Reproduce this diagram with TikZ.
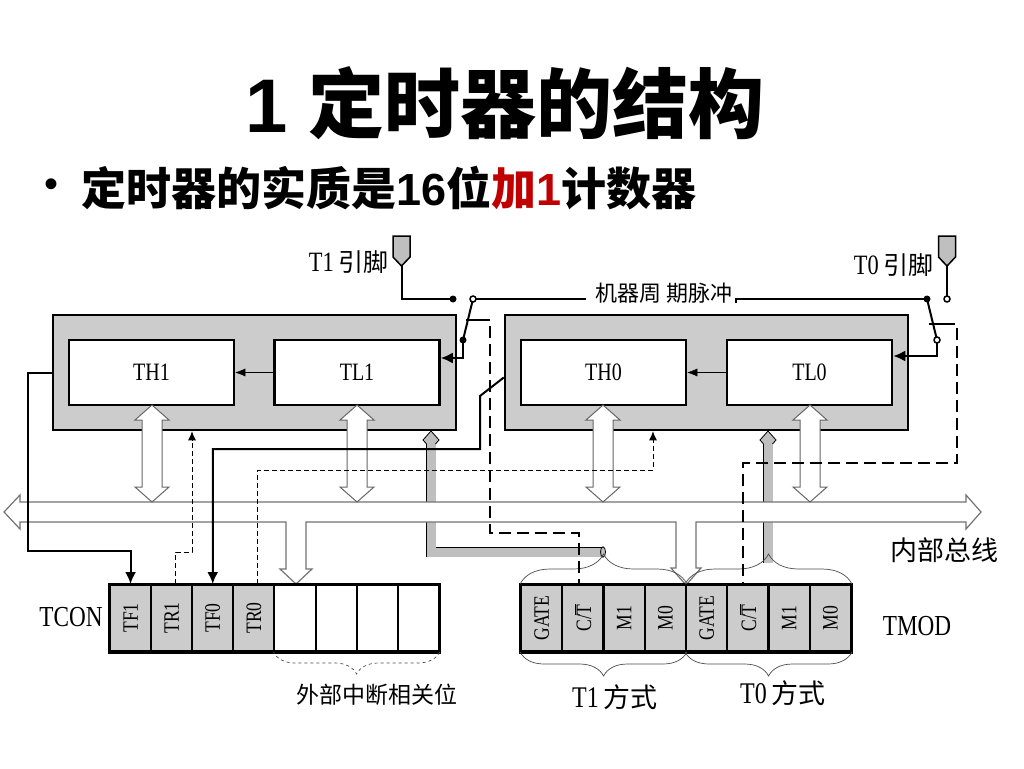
\documentclass[tikz,border=0pt]{standalone}
\usepackage{fontspec}
\setmainfont{Liberation Serif}[FakeStretch=0.8]
\newfontfamily\cjk{Noto Sans CJK SC}
\newfontfamily\arial{Liberation Sans}
\usetikzlibrary{arrows.meta,decorations.pathreplacing}
\newcommand\setsz[1]{\fontsize{#1}{#1}\selectfont}
\newcommand\ctbar{C/$\overline{\mbox{T}}$}
\definecolor{darkred}{RGB}{192,0,0}
\tikzset{
  graybox/.style={draw, line width=2.5pt, fill=black!20, minimum width=403, minimum height=115, inner sep=0},
  regbox/.style={draw, line width=2.5pt, fill=white, minimum width=165, minimum height=65, inner sep=0, font={\setsz{25}}},
  bitcell/.style={draw, line width=2pt, fill=black!20, minimum width=41.1, minimum height=66, inner sep=0, font={\setsz{22}}},
  wire/.style={line width=2pt},
  flagtip/.style={-{Latex[length=12pt,width=11pt]}},
  smalltip/.style={-{Latex[length=9pt,width=8pt]}},
  thindash/.style={line width=1pt, dash pattern=on 5pt off 3pt},
  thickdash/.style={line width=2pt, dash pattern=on 12pt off 6pt},
  pipe/.style={draw=black, line width=0.8pt, double=black!25, double distance=9pt},
  busline/.style={fill=white, draw=black!55, line width=1.2pt},
  dblarrow/.style={fill=white, draw=black!60, line width=1pt},
  mbrace/.style={decorate, decoration={brace, amplitude=#1}, draw=black!70, line width=0.7pt}
}

\begin{document}
\begin{tikzpicture}[x=1pt, y=-1pt, line join=miter]
\fill[white] (0,0) rectangle (1024,768);
\useasboundingbox (0,0) rectangle (1024,768);

% title
\node (title) at (505,103) {\setsz{76}\arial\bfseries 1\ \cjk 定时器的结构};
\node (dot) at (52,188) {\setsz{40}\arial •};
\node[anchor=west] (sub) at (78,188) {\setsz{45}\cjk\bfseries 定时器的实质是{\arial 16}位\textcolor{darkred}{加{\arial 1}}计数器};

% timer blocks
\node[graybox] (t1box) at (254.5,372.5) {};
\node[graybox] (t0box) at (706.5,372.5) {};
\node[regbox] (th1) at (151.5,372.5) {TH1};
\node[regbox] (tl1) at (357,372.5) {TL1};
\node[regbox] (th0) at (603.5,372.5) {TH0};
\node[regbox] (tl0) at (809.5,372.5) {TL0};
\draw[-{Latex[length=10pt,width=8pt]}] (tl1) -- (th1);
\draw[-{Latex[length=10pt,width=8pt]}] (tl0) -- (th0);

% pins
\filldraw[fill=black!25, line width=1.5pt] (393,236) -- (410,236) -- (410,257) -- (401.5,266) -- (393,257) -- cycle;
\filldraw[fill=black!25, line width=1.5pt] (938.5,236) -- (955.5,236) -- (955.5,257) -- (947,266) -- (938.5,257) -- cycle;
\coordinate (p1) at (401.5,266);
\coordinate (p0) at (947,266);
\node[anchor=east] (t1pin) at (392,262) {\setsz{28}T1\,{\cjk\setsz{25}引脚}};
\node[anchor=east] (t0pin) at (937,265) {\setsz{28}T0\,{\cjk\setsz{25}引脚}};

% clock and switches
\coordinate (s1a) at (453,299);
\coordinate (s1b) at (473,299);
\coordinate (s1c) at (463,340);
\coordinate (s0a) at (927,299);
\coordinate (s0b) at (947,299);
\coordinate (s0c) at (937,340);
\node (clk) at (664,293) {\setsz{22}\cjk 机器周 期脉冲};
\draw[wire] (p1) |- (s1a);
\draw[wire] (p0) -- (s0b);
\draw[wire] (s1b) -- ([xshift=-6pt]clk.west |- s1b);
\draw[wire] (clk.east |- s0a) ++(0,4) -- ++(0,-4) -- (s0a);
\draw[wire] (s1b) -- (s1c);
\draw[wire] (466,320) -- (478,320);
\draw[wire] (s0a) -- (s0c);
\draw[wire] (929,324) -- (943,324);
\draw[wire, flagtip] (s1c) -- (463,358) -- (tl1.east |- 0,358);
\draw[wire, flagtip] (s0c) -- (937,356) -- (tl0.east |- 0,356);
\fill (s1a) circle (3.5pt);
\fill (s1c) circle (3.5pt);
\fill (s0a) circle (3.5pt);
\filldraw[fill=white, line width=1.5pt] (s1b) circle (3pt);
\filldraw[fill=white, line width=1.5pt] (s0b) circle (3pt);
\filldraw[fill=white, line width=1.5pt] (s0c) circle (3pt);

% gray pipes
\draw[pipe] (431,444) -- (431,552) -- (603,552);
\filldraw[fill=black!25, line width=0.8pt] (426.5,444) -- (423,440) -- (431,431) -- (439,440) -- (435.5,444);
\draw[line width=0.8pt, fill=black!25] (603,552) ellipse (2.5pt and 5.2pt);
\draw[pipe] (768,444) -- (768,563);
\filldraw[fill=black!25, line width=0.8pt] (763.5,444) -- (760,440) -- (768,431) -- (776,440) -- (772.5,444);

% internal bus
\filldraw[busline] (4,512) -- (20,495) -- (20,502) -- (966,502) -- (966,495) -- (981,512) -- (966,529) -- (966,522)
  -- (696,522) -- (696,568) -- (701,568) -- (686,585) -- (671,568) -- (676,568) -- (676,522)
  -- (306,522) -- (306,569) -- (312,569) -- (296,584) -- (280,569) -- (286,569) -- (286,522)
  -- (20,522) -- (20,529) -- cycle;
\node (bus) at (944,550) {\setsz{27}\cjk 内部总线};
\foreach \x in {152,357,603,810}
  \filldraw[dblarrow] (\x,405) -- ++(17,15) -- ++(-7,0) -- ++(0,67) -- ++(7,0) -- (\x,502)
    -- ++(-17,-15) -- ++(7,0) -- ++(0,-67) -- ++(-7,0) -- cycle;

% TCON
\foreach \n/\t [count=\i] in {tf1/TF1,tr1/TR1,tf0/TF0,tr0/TR0}
  \node[bitcell] (\n) at (89.45+41.1*\i,618) {\rotatebox{90}{\t}};
\foreach \n [count=\i from 5] in {e1,e2,e3,e4}
  \node[bitcell, fill=white] (\n) at (89.45+41.1*\i,618) {};
\draw[line width=3pt] (tf1.north west) rectangle (e4.south east);
\node (tcon) at (71,617) {\setsz{29}TCON};
\draw[mbrace=22pt, dashed] (e4.south east) -- (e1.south west);
\node (ext) at (377,695) {\setsz{23}\cjk 外部中断相关位};

% TMOD
\foreach \n/\t [count=\i] in {g1/GATE,ct1/\ctbar,m11/M1,m01/M0,g0/GATE,ct0/\ctbar,m10/M1,m00/M0}
  \node[bitcell] (\n) at (500.4+41.25*\i,618) {\rotatebox{90}{\t}};
\draw[line width=3pt] (g1.north west) rectangle (m00.south east);
\node (tmod) at (917,626) {\setsz{29}TMOD};
\draw[mbrace=30pt] (g1.north west) -- (m01.north east);
\draw[mbrace=30pt] (g0.north west) -- (m00.north east);
\draw[mbrace=24pt] (m01.south east) -- (g1.south west);
\draw[mbrace=24pt] (m00.south east) -- (g0.south west);
\node (t1mode) at (615,697) {\setsz{30}T1\,{\cjk\setsz{27}方式}};
\node (t0mode) at (783,693) {\setsz{30}T0\,{\cjk\setsz{27}方式}};

% flag and control lines
\draw[wire, flagtip] (t1box.west) -- (28,372.5) -- (28,551) -| (tf1.north);
\draw[wire, flagtip] ([yshift=-5pt]t0box.west) -- (480,396) -- (480,449) -| (tf0.north);
\draw[thindash, smalltip] ([xshift=4pt]tr1.north) |- (192,552) -- (t1box.south -| 192,552);
\draw[thindash, smalltip] ([xshift=4pt]tr0.north) |- (653,470) -- (t0box.south -| 653,470);
\draw[thickdash] (478,320) -- (490,320) -- (490,533) -| ([xshift=-4pt]ct1.north);
\draw[thickdash] (943,324) -- (957,324) -- (957,463) -| ([xshift=-5pt]ct0.north);
\end{tikzpicture}
\end{document}
